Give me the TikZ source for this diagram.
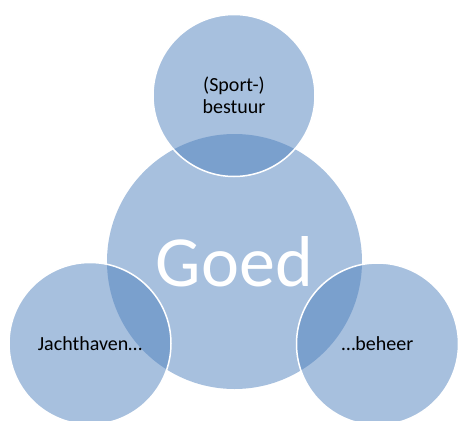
\documentclass[tikz,border=0pt]{standalone}
\usepackage{fontspec}
\setmainfont{Carlito}
\definecolor{ringblue}{HTML}{4F81BD}

\begin{document}
\begin{tikzpicture}[x=1pt,y=-1pt,
  ring/.style={circle, inner sep=0pt, minimum size=#1, fill=ringblue,
    fill opacity=0.5, text opacity=1, align=center},
  small/.style={ring=162pt, draw=white, line width=1.5pt,
    font=\fontsize{20}{22}\selectfont}]
  \useasboundingbox (0,0) rectangle (459,421);
  \clip (0,0) rectangle (459,421);

  % Draw the big circle
  \node[ring=255pt, text=white, font=\fontsize{72}{80}\selectfont] (goed) at (234.5,261.5) {Goed};

  % Draw the three small circles
  \node[small] (bestuur) at (234,95.5) {(Sport-)\\bestuur};
  \node[small] (jachthaven) at (90,343.5) {Jachthaven…};
  \node[small] (beheer) at (377.5,344) {…beheer};
\end{tikzpicture}
\end{document}
